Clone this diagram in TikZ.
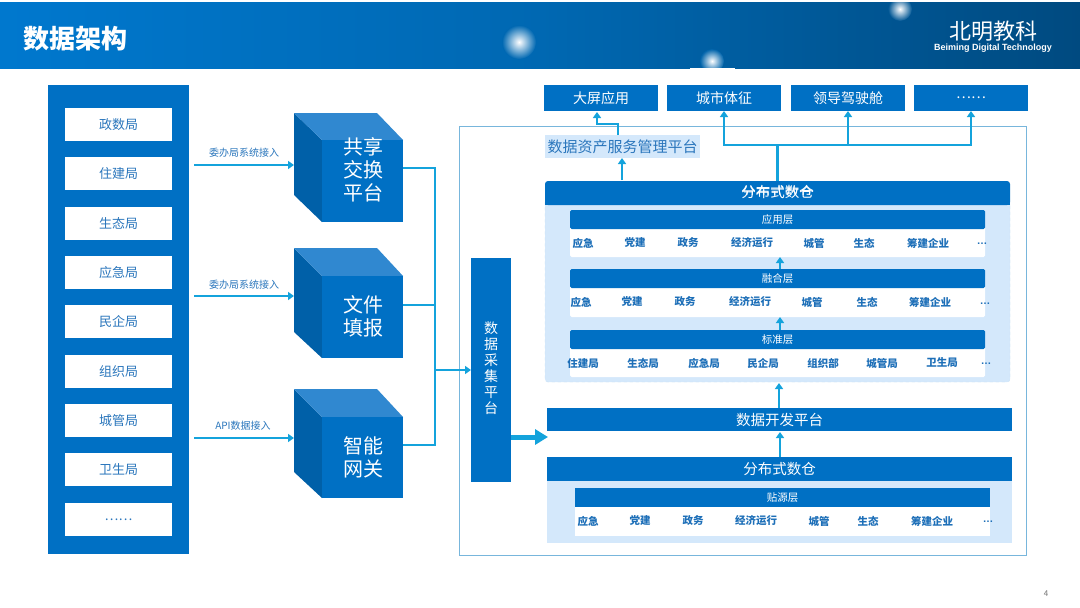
\documentclass[tikz,border=0pt]{standalone}
\usepackage{fontspec}
\setmainfont{Noto Sans CJK SC}
\newfontfamily\latinfont{Liberation Sans}
\usetikzlibrary{arrows.meta}
\definecolor{mainblue}{HTML}{0070C4}
\definecolor{flowblue}{HTML}{14A3DC}
\definecolor{textblue}{HTML}{2A76BC}
\definecolor{rowblue}{HTML}{1D6FB8}
\definecolor{paleblue}{HTML}{D4E8FB}
\definecolor{frameblue}{HTML}{78B6DC}
\definecolor{cubedark}{HTML}{0060A8}
\definecolor{cubetop}{HTML}{3088D0}
\definecolor{headL}{HTML}{0078CE}
\definecolor{headM}{HTML}{0068B2}
\definecolor{headR}{HTML}{004A80}
\newcommand{\fsz}[1]{\fontsize{#1}{#1}\selectfont}
% name, x1,y1,x2,y2, style, text
\newcommand{\pxbox}[7]{\node[plainbox,#6,minimum width={(#4-#2)*1pt},minimum height={(#5-#3)*1pt}] (#1) at ({(#2+#4)/2},{(#3+#5)/2}) {#7};}
% prefix, left, top
\newcommand{\cube}[5]{%
 \fill[cubedark] (294,#2) -- (322,#3) -- (322,#5) -- (294,#4) -- cycle;
 \fill[cubetop] (294,#2) -- (377,#2) -- (403,#3) -- (322,#3) -- cycle;
 \pxbox{#1}{322}{#3}{403}{#5}{fill=mainblue}{}
}
\newcommand{\rowlabels}[3]{\foreach \px/\tx [count=\ci] in {#3}{\node[rowtext] (#1\ci) at (\px,#2) {\tx};}}
\tikzset{
 plainbox/.style={inner sep=0pt,outer sep=0pt,draw=none,text=white,align=center},
 orgbox/.style={fill=white,text=textblue,font=\fsz{13}},
 topbox/.style={fill=mainblue,font=\fsz{14}},
 barbox/.style={fill=mainblue,font=\fsz{14.5}},
 layerhead/.style={fill=mainblue,font=\fsz{10.5},rounded corners=1.5pt},
 rowwhite/.style={fill=white,rounded corners=1.5pt},
 rowtext/.style={inner sep=0pt,text=rowblue,font=\fsz{10.5}\bfseries},
 dotstext/.style={inner sep=0pt,text=rowblue,font=\latinfont\fsz{10.5}\bfseries},
 cubetext/.style={inner sep=0pt,text=white,align=center,font=\fontsize{20}{23}\selectfont},
 feedlabel/.style={inner sep=0pt,text=textblue,font=\fsz{10}},
 flow/.style={draw=flowblue,line width=2.2pt,-{Triangle[length=6pt,width=8pt]}},
 flowthin/.style={draw=flowblue,line width=2.2pt},
 glowspot/.style={circle,inner sep=0pt,minimum size=34pt,draw=none},
}
\begin{document}
\begin{tikzpicture}[x=1pt,y=-1pt]
\useasboundingbox (0,0) rectangle (1080,608);
\fill[white] (0,0) rectangle (1080,608);
% header band
\shade[left color=headL,right color=headR,middle color=headM] (0,2) rectangle (1080,68);
\node[glowspot,inner color=white,outer color=headM] (g1) at (519,42) {};
\node[glowspot,inner color=white,outer color=headM!85!headR,minimum size=24pt] (g2) at (712,61) {};
\node[glowspot,inner color=white,outer color=headR!60!headM,minimum size=24pt] (g3) at (900,9) {};
\fill[headM] (690,68) rectangle (735,72);
\fill[white] (690,68) rectangle (735,76);
\fill[white] (880,0) rectangle (920,2);
\node[inner sep=0pt,text=white,font=\fsz{26}\bfseries,anchor=west] (title) at (23,39) {数据架构};
\node[inner sep=0pt,text=white,font=\fsz{22},anchor=center] (logo) at (993,31) {北明教科};
\node[inner sep=0pt,text=white,font=\latinfont\fsz{9}\bfseries] (logosub) at (993,48) {Beiming Digital Technology};
% left column
\pxbox{depts}{48}{85}{189}{554}{fill=mainblue}{}
\foreach \ya/\tx [count=\ci] in {108/政数局,157/住建局,207/生态局,256/应急局,305/民企局,355/组织局,404/城管局,453/卫生局,503/……}{
 \pgfmathsetmacro{\yb}{\ya+33}
 \pxbox{org\ci}{65}{\ya}{172}{\yb}{orgbox}{\tx}
}
% cubes
\cube{cubeA}{113}{140}{195}{222}
\cube{cubeB}{248}{276}{332}{358}
\cube{cubeC}{389}{417}{472}{498}
\node[cubetext] (cubeAtxt) at (363,170) {共享\\交换\\平台};
\node[cubetext] (cubeBtxt) at (363,316) {文件\\填报};
\node[cubetext] (cubeCtxt) at (363,457) {智能\\网关};
% feed arrows
\coordinate (inA) at (194,165); \coordinate (inAe) at (294,165);
\coordinate (inB) at (194,296); \coordinate (inBe) at (294,296);
\coordinate (inC) at (194,438); \coordinate (inCe) at (294,438);
\draw[flow] (inA) -- (inAe);
\draw[flow] (inB) -- (inBe);
\draw[flow] (inC) -- (inCe);
\node[feedlabel] (lblA) at (244,153) {委办局系统接入};
\node[feedlabel] (lblB) at (244,285) {委办局系统接入};
\node[feedlabel] (lblC) at (243,426) {API数据接入};
% big frame
\draw[frameblue,line width=0.8pt] (459,126) rectangle (1026,555);
% collection platform
\pxbox{collect}{471}{258}{511}{482}{fill=mainblue}{}
\node[inner sep=0pt,text=white,align=center,font=\fontsize{14}{16}\selectfont] (collecttxt) at (491,368) {数\\据\\采\\集\\平\\台};
% merging lines
\coordinate (busTop) at (435,168); \coordinate (busMid) at (435,305); \coordinate (busBot) at (435,445); \coordinate (busOut) at (435,370);
\coordinate (outA) at (403,168); \coordinate (outB) at (403,305); \coordinate (outC) at (403,445);
\draw[flowthin] (outA) -- (busTop) -- (busBot) -- (outC);
\draw[flowthin] (outB) -- (busMid);
\draw[flow] (busOut) -- (collect.west |- busOut);
% big arrow
\coordinate (bigA) at (511,437); \coordinate (bigB) at (548,437);
\draw[draw=flowblue,line width=5pt,-{Triangle[length=13pt,width=15pt]}] (bigA) -- (bigB);
% top apps
\pxbox{app1}{544}{85}{658}{111}{topbox}{大屏应用}
\pxbox{app2}{667}{85}{781}{111}{topbox}{城市体征}
\pxbox{app3}{791}{85}{905}{111}{topbox}{领导驾驶舱}
\pxbox{app4}{914}{85}{1028}{111}{topbox}{……}
% asset platform
\pxbox{asset}{545}{135}{700}{158}{fill=paleblue,text=textblue,font=\fsz{15}}{数据资产服务管理平台}
% upper warehouse
\pxbox{dwpanel}{545}{200}{1010}{382}{fill=paleblue,draw=paleblue!85!frameblue,dashed,rounded corners=3pt}{}
\pxbox{dwhead}{545}{181}{1010}{205}{barbox,rounded corners=3pt}{分布式数仓}
\fill[mainblue] (545,195) rectangle (1010,205);
\node[inner sep=0pt,text=white,font=\fsz{14.5}] (dwheadtxt) at (777.5,192.5) {分布式数仓};
% layers
\pxbox{lay1w}{570}{215}{985}{257}{rowwhite}{}
\pxbox{lay1}{570}{210}{985}{229}{layerhead}{应用层}
\pxbox{lay2w}{570}{275}{985}{317}{rowwhite}{}
\pxbox{lay2}{570}{269}{985}{288}{layerhead}{融合层}
\pxbox{lay3w}{570}{335}{985}{377}{rowwhite}{}
\pxbox{lay3}{570}{330}{985}{349}{layerhead}{标准层}
\rowlabels{ra}{243}{583/应急,635/党建,688/政务,752/经济运行,814/城管,864/生态,928/筹建企业}
\node[dotstext] (ra8) at (982,244) {…};
\rowlabels{rb}{302}{581/应急,632/党建,685/政务,750/经济运行,812/城管,867/生态,930/筹建企业}
\node[dotstext] (rb8) at (985,304) {…};
\rowlabels{rc}{363}{583/住建局,643/生态局,704/应急局,763/民企局,823/组织部,882/城管局,942/卫生局}
\node[dotstext] (rc8) at (986,364) {…};
% dev platform
\pxbox{dev}{547}{408}{1012}{431}{barbox}{数据开发平台}
% lower warehouse
\pxbox{lowpanel}{547}{481}{1012}{543}{fill=paleblue}{}
\pxbox{lowhead}{547}{457}{1012}{481}{barbox}{分布式数仓}
\pxbox{lay4w}{575}{507}{990}{536}{fill=white}{}
\pxbox{lay4}{575}{488}{990}{507}{fill=mainblue,font=\fsz{10.5}}{贴源层}
\rowlabels{rd}{521}{588/应急,640/党建,693/政务,756/经济运行,819/城管,868/生态,932/筹建企业}
\node[dotstext] (rd8) at (988,522) {…};
% vertical arrows
\coordinate (t1) at (622,180); \coordinate (t2) at (622,158);
\draw[flow] (t1) -- (t2);
\coordinate (u1) at (618,135); \coordinate (u2) at (618,124); \coordinate (u3) at (597,124); \coordinate (u4) at (597,112);
\draw[flow] (u1) -- (u2) -- (u3) -- (u4);
\coordinate (v0) at (777,181); \coordinate (v1) at (777,145);
\coordinate (vL) at (724,145); \coordinate (vM) at (848,145); \coordinate (vR) at (971,145);
\draw[flowthin,line width=3pt] (v0) -- (v1);
\draw[flow] (v1) -- (vL) -- (app2.south -| vL);
\draw[flow] (v1) -- (vM) -- (app3.south -| vM);
\draw[flow] (v1) -- (vR) -- (app4.south -| vR);
\coordinate (w1) at (780,269); \coordinate (w2) at (780,257);
\coordinate (w3) at (780,330); \coordinate (w4) at (780,317);
\coordinate (w5) at (779,408); \coordinate (w6) at (779,383);
\coordinate (w7) at (780,457); \coordinate (w8) at (780,432);
\draw[flow] (w1) -- (w2);
\draw[flow] (w3) -- (w4);
\draw[flow] (w5) -- (w6);
\draw[flow] (w7) -- (w8);
% page number
\node[inner sep=0pt,text=black!55,font=\fsz{8}] (pagenum) at (1046,594) {4};
\end{tikzpicture}
\end{document}
